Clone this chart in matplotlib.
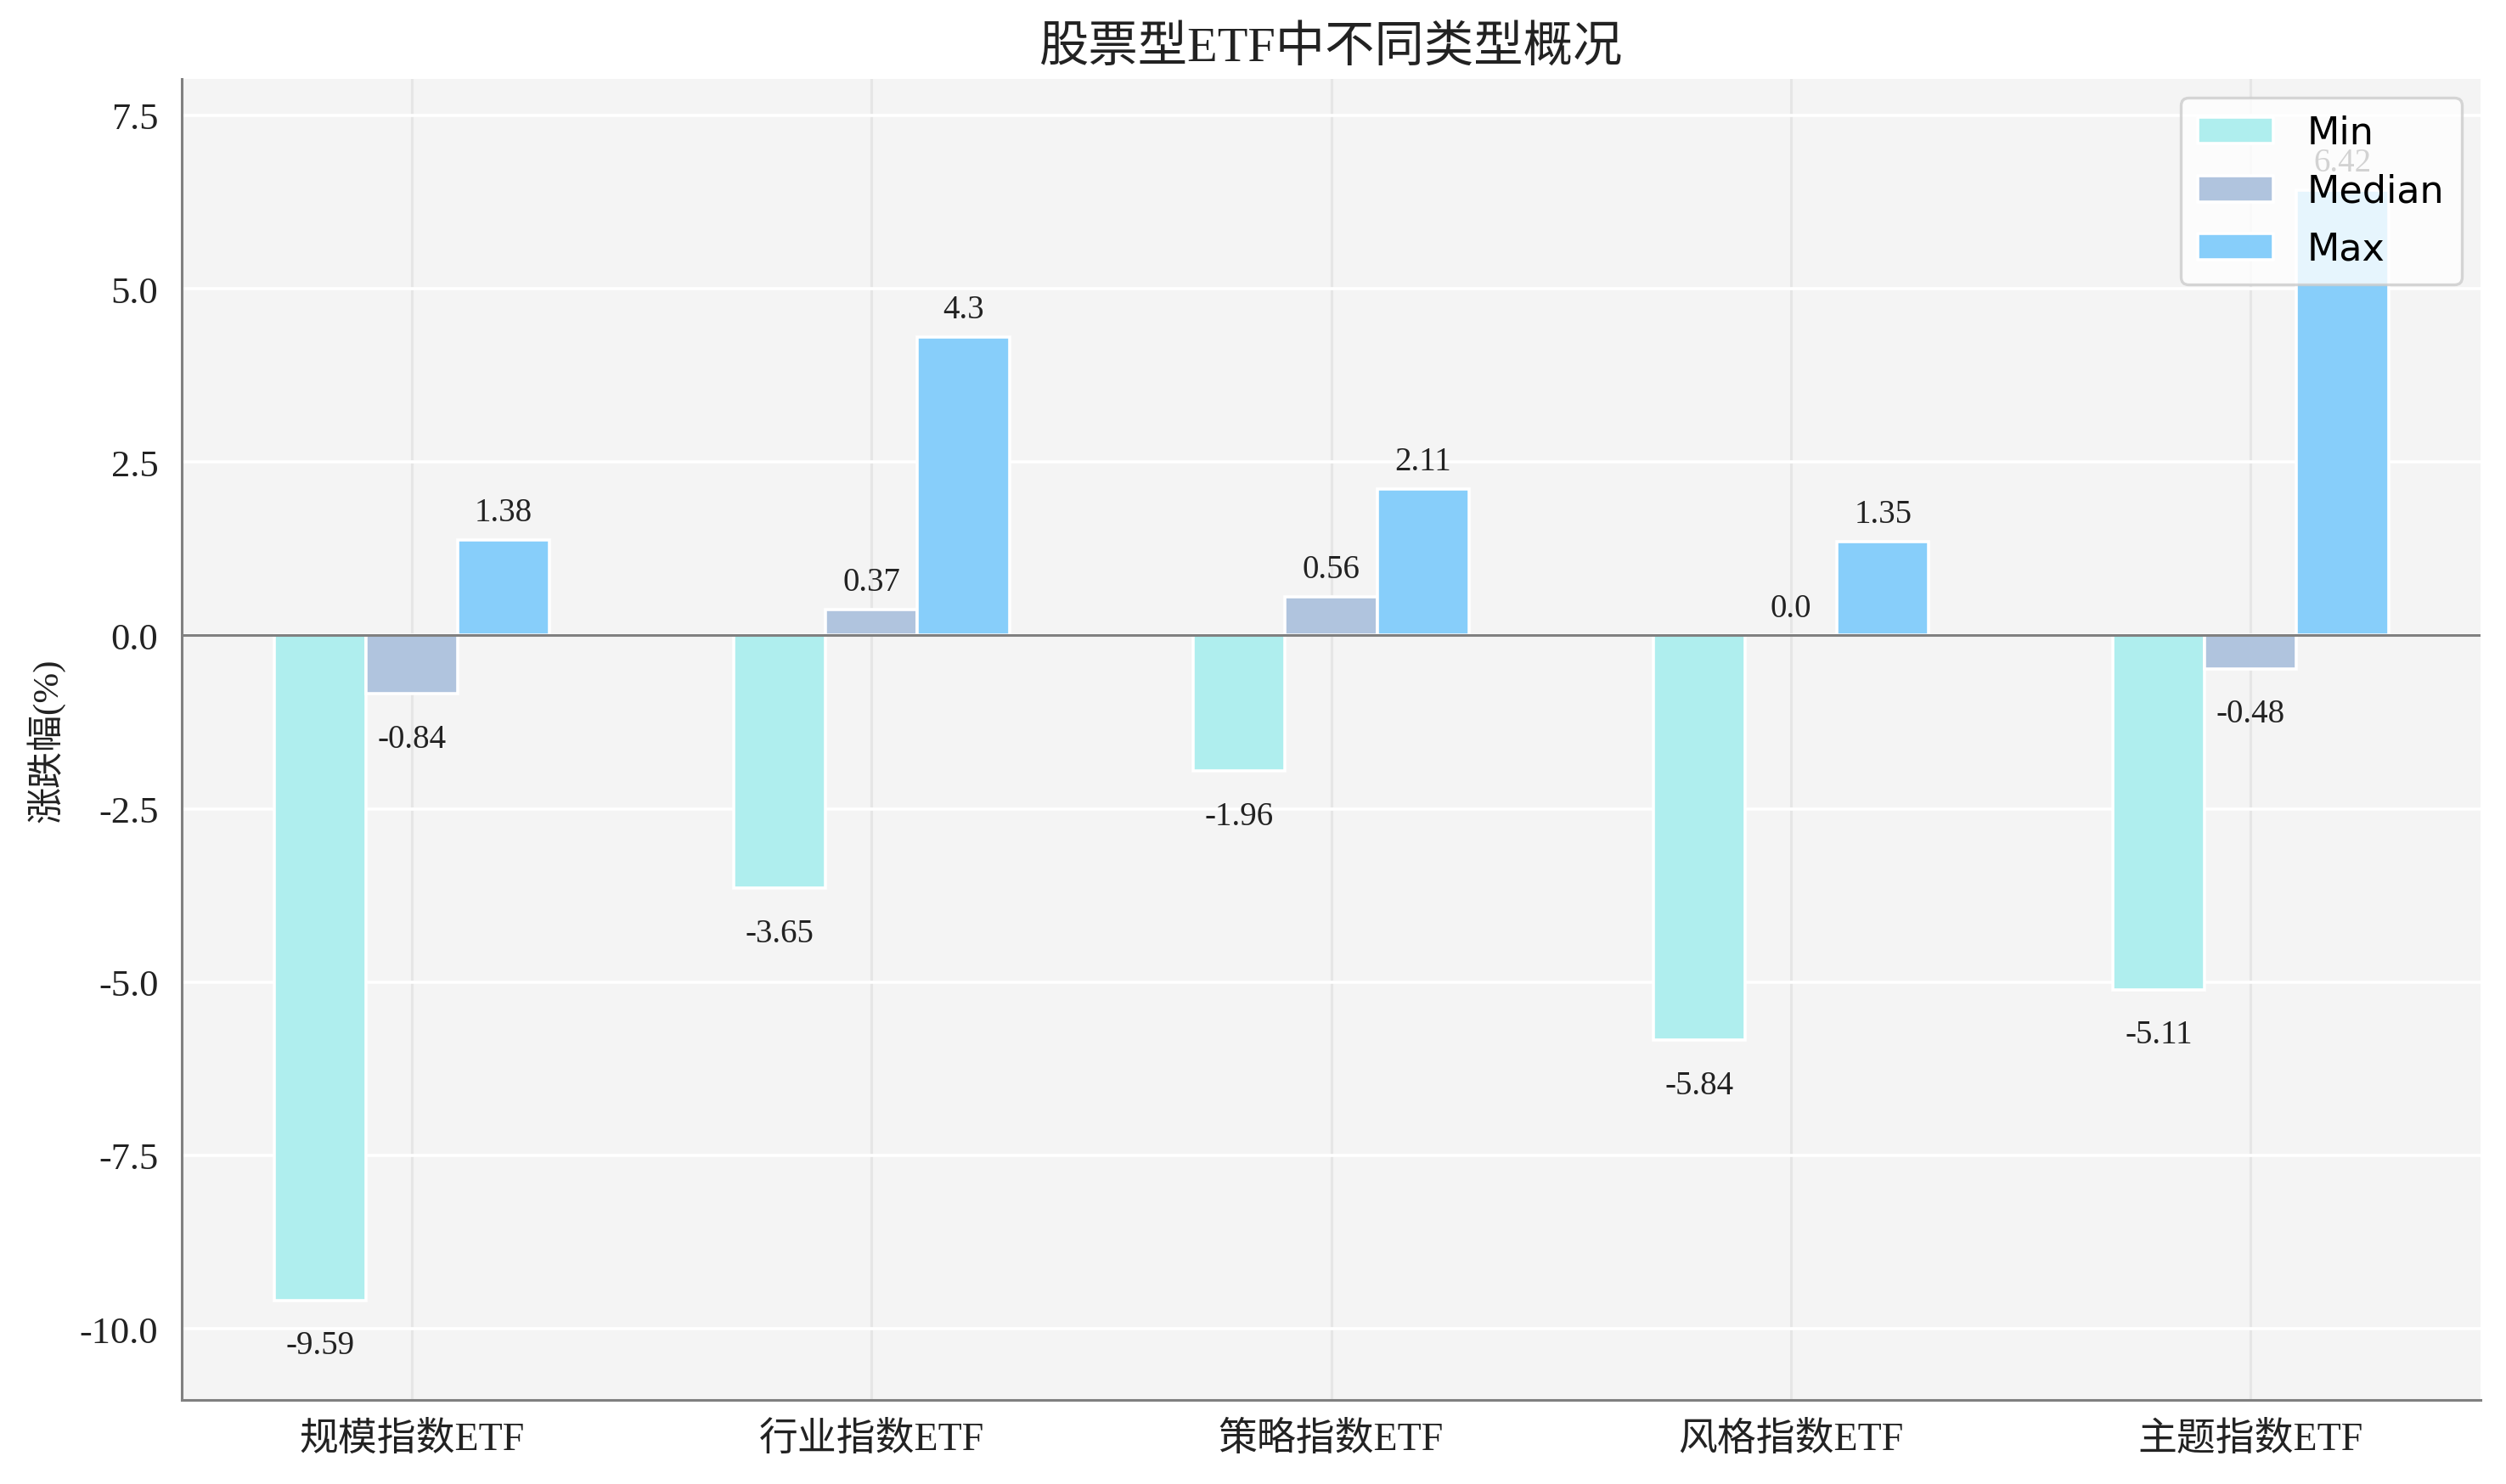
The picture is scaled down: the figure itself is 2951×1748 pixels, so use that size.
import matplotlib
matplotlib.use("Agg")
import matplotlib.pyplot as plt
import numpy as np

categories = ['规模指数ETF', '行业指数ETF', '策略指数ETF', '风格指数ETF', '主题指数ETF']
min_vals = [-9.59, -3.65, -1.96, -5.84, -5.11]
median_vals = [-0.84, 0.37, 0.56, 0.0, -0.48]
max_vals = [1.38, 4.3, 2.11, 1.35, 6.42]
series_names = ['Min', 'Median', 'Max']
title = '股票型ETF中不同类型概况'
ylabel = '涨跌幅(%)'

FAM = ['Liberation Serif', 'Noto Sans CJK SC', 'DejaVu Sans']
plt.rcParams['font.family'] = FAM
plt.rcParams['axes.unicode_minus'] = False

colors = ['#afeeee', '#b0c4de', '#87cefa']

fig = plt.figure(figsize=(2951 / 200, 1749 / 200), dpi=200)
ax = fig.add_axes([0.0726, 0.0566, 0.9172, 0.8896])
ax.set_facecolor('#f4f4f4')

x = np.arange(len(categories))
width = 0.2
all_series = [min_vals, median_vals, max_vals]
offsets = [-width, 0, width]
for vals, off, col, name in zip(all_series, offsets, colors, series_names):
    bars = ax.bar(x + off, vals, width, color=col, edgecolor='white',
                  linewidth=1.3, label=name, zorder=3)
    for b, v in zip(bars, vals):
        if v >= 0:
            ax.annotate(str(v), (b.get_x() + b.get_width() / 2, v),
                        xytext=(0, 5), textcoords='offset points',
                        ha='center', va='bottom', fontsize=14,
                        color='#222222', zorder=4)
        else:
            ax.annotate(str(v), (b.get_x() + b.get_width() / 2, v),
                        xytext=(0, -12.5), textcoords='offset points',
                        ha='center', va='top', fontsize=14,
                        color='#222222', zorder=4)

ax.axhline(0, color='#808080', linewidth=1.1, zorder=3.5)

ax.set_xlim(-0.5, len(categories) - 0.5)
ax.set_ylim(min(min_vals) * 1.15, max(max_vals) * 1.25)
ax.set_yticks([-10.0, -7.5, -5.0, -2.5, 0.0, 2.5, 5.0, 7.5])
ax.set_yticklabels(['-10.0', '-7.5', '-5.0', '-2.5', '0.0', '2.5', '5.0', '7.5'])
ax.set_xticks(x)
ax.set_xticklabels(categories)

ax.tick_params(axis='y', length=0, pad=10, labelsize=16, labelcolor='#222222')
ax.tick_params(axis='x', length=0, pad=9, labelsize=16.5, labelcolor='#222222')

ax.yaxis.grid(True, color='white', linewidth=1.3, zorder=0)
ax.xaxis.grid(True, color='#e6e6e6', linewidth=1.1, zorder=0)
ax.set_axisbelow(True)

for s in ['top', 'right']:
    ax.spines[s].set_visible(False)
for s in ['left', 'bottom']:
    ax.spines[s].set_color('#808080')
    ax.spines[s].set_linewidth(1.1)

ax.set_title(title, fontsize=21, pad=8, color='#222222')
ax.set_ylabel(ylabel, fontsize=15.5, color='#222222')
ax.yaxis.set_label_coords(-0.051, 0.5)

leg = ax.legend(loc='upper right', prop={'family': 'DejaVu Sans', 'size': 16},
                frameon=True, fancybox=True, framealpha=0.8,
                edgecolor='#cccccc', handletextpad=0.9, labelspacing=0.57,
                borderpad=0.45)
leg.get_frame().set_linewidth(1.2)
leg.set_zorder(10)

fig.savefig('out.png', dpi=200)
